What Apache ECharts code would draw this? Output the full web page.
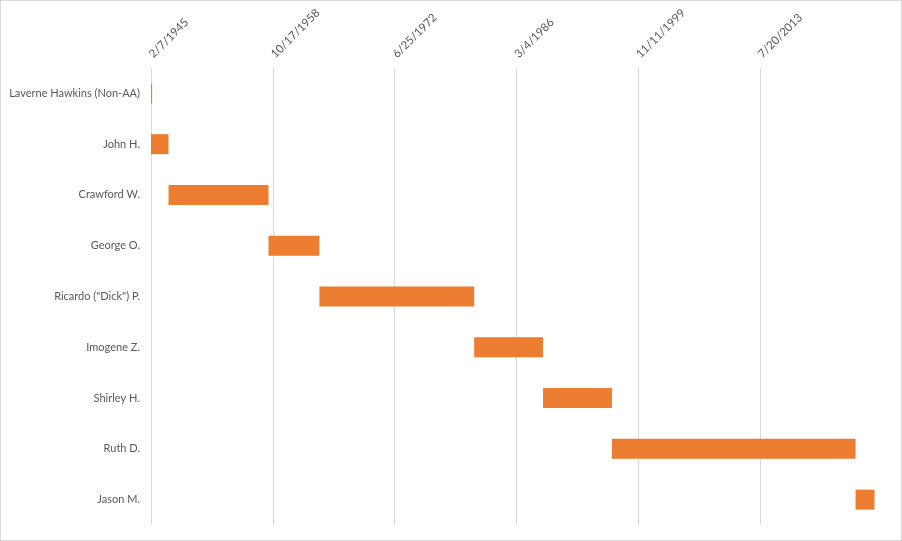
<!DOCTYPE html>
<html>
<head>
<meta charset="utf-8">
<script src="https://cdn.jsdelivr.net/npm/echarts@6/dist/echarts.min.js"></script>
<style>
html,body{margin:0;padding:0;background:#fff;}
#chart{width:902px;height:541px;box-sizing:border-box;border:1px solid #d9d9d9;}
</style>
</head>
<body>
<div id="chart"></div>
<script>
// Data
var names = ["Laverne Hawkins (Non-AA)", "John H.", "Crawford W.", "George O.", "Ricardo (\"Dick\") P.", "Imogene Z.", "Shirley H.", "Ruth D.", "Jason M."];
var startDates = ["1945-02-07", "1945-02-07", "1947-01-28", "1958-04-24", "1964-01-13", "1981-06-04", "1989-03-02", "1996-11-28", "2024-04-15"];
var endDates   = ["1945-03-25", "1947-01-28", "1958-04-24", "1964-01-13", "1981-06-04", "1989-03-02", "1996-11-28", "2024-04-15", "2026-06-03"];
var axisStart = "1945-02-07";
var axisEnd = "2026-06-22";
var tickStepDays = 5000;

var DAY = 86400000;
function toMs(s){ var p = s.split("-"); return Date.UTC(+p[0], +p[1]-1, +p[2]); }
var base = toMs(axisStart);
function off(s){ return Math.round((toMs(s) - base) / DAY); }
var offsets = startDates.map(off);
var durations = endDates.map(function(e, i){ return off(e) - offsets[i]; });
var maxOff = off(axisEnd);

function fmt(v){
  if (v % tickStepDays !== 0) return "";
  var d = new Date(base + v * DAY);
  return (d.getUTCMonth()+1) + "/" + d.getUTCDate() + "/" + d.getUTCFullYear();
}

var nTicks = Math.floor(maxOff / tickStepDays) + 1;
var lineColors = [];
for (var i = 0; i < nTicks; i++) lineColors.push("#d9d9d9");
if (maxOff % tickStepDays !== 0) lineColors.push("rgba(0,0,0,0)");

var FONT = "Lato, 'Open Sans', sans-serif";
var chart = echarts.init(document.getElementById("chart"));
chart.setOption({
  animation: false,
  textStyle: { fontFamily: FONT },
  grid: { left: 150, top: 67, right: 26, bottom: 15, containLabel: false, outerBoundsMode: "none" },
  xAxis: {
    type: "value",
    position: "top",
    min: 0,
    max: maxOff,
    interval: tickStepDays,
    axisLine: { show: false },
    axisTick: { show: false },
    axisLabel: {
      rotate: -45,
      margin: 12,
      color: "#595959",
      fontSize: 11.5,
      fontFamily: FONT,
      showMaxLabel: false,
      formatter: fmt
    },
    splitLine: { show: true, lineStyle: { color: lineColors, width: 1 } }
  },
  yAxis: {
    type: "category",
    inverse: true,
    data: names,
    axisLine: { show: false },
    axisTick: { show: false },
    splitLine: { show: false },
    axisLabel: { color: "#595959", fontSize: 11, margin: 11, fontFamily: FONT }
  },
  series: [
    {
      type: "bar",
      stack: "g",
      data: offsets,
      itemStyle: { color: "rgba(0,0,0,0)" },
      barWidth: 20,
      silent: true
    },
    {
      type: "bar",
      stack: "g",
      data: durations,
      barWidth: 20,
      itemStyle: { color: "#ed7d31" }
    }
  ]
});
</script>
</body>
</html>
